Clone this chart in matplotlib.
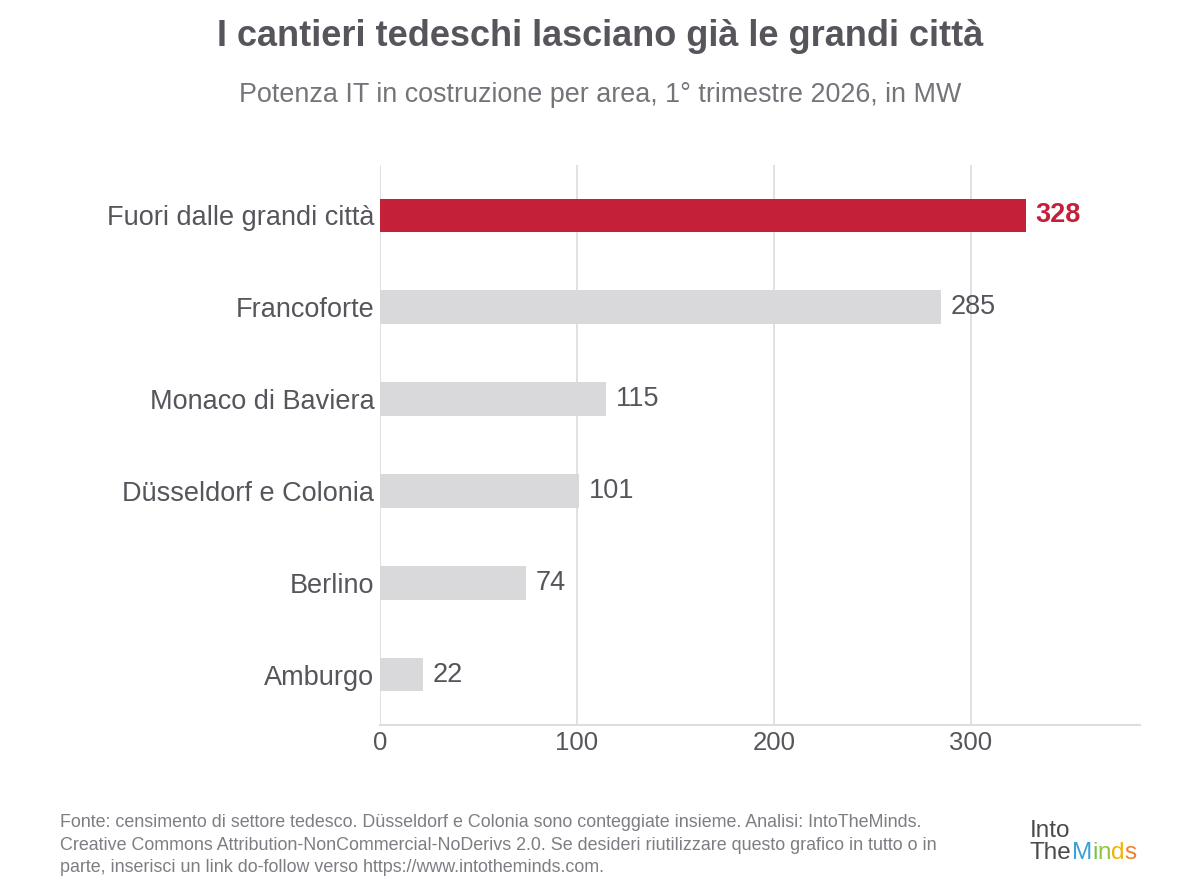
import matplotlib
matplotlib.use("Agg")
import matplotlib.pyplot as plt

categories = ["Fuori dalle grandi città", "Francoforte", "Monaco di Baviera",
              "Düsseldorf e Colonia", "Berlino", "Amburgo"]
values = [328, 285, 115, 101, 74, 22]
highlight = [True, False, False, False, False, False]
xticks = [0, 100, 200, 300]

title = "I cantieri tedeschi lasciano già le grandi città"
subtitle = "Potenza IT in costruzione per area, 1° trimestre 2026, in MW"
footer = ("Fonte: censimento di settore tedesco. Düsseldorf e Colonia sono conteggiate insieme. Analisi: IntoTheMinds.\n"
          "Creative Commons Attribution-NonCommercial-NoDerivs 2.0. Se desideri riutilizzare questo grafico in tutto o in\n"
          "parte, inserisci un link do-follow verso https://www.intotheminds.com.")

plt.rcParams['font.family'] = ['Liberation Sans', 'DejaVu Sans']
TXT = "#58545c"
RED = "#c5203a"
GREY = "#d9d8db"
GRID = "#dedde0"

W, H = 1200, 896
fig = plt.figure(figsize=(W/100, H/100), dpi=100)
fig.patch.set_facecolor("white")
ax = fig.add_axes([380/W, 1-725/H, (1140-380)/W, (725-165)/H])

ypos = list(range(len(categories)))
colors = [RED if h else GREY for h in highlight]
ax.barh(ypos, values, height=0.37, color=colors, zorder=3)
ax.set_ylim(len(categories)-1+0.55, -0.55)
ax.set_xlim(0, 386)
ax.set_yticks(ypos)
ax.set_yticklabels(categories, fontsize=19.5, color=TXT)
ax.set_xticks(xticks)
ax.set_xticklabels([str(t) for t in xticks], fontsize=18.5, color=TXT)
ax.tick_params(axis='both', length=0)
ax.tick_params(axis='y', pad=4)
ax.tick_params(axis='x', pad=4)
ax.grid(axis='x', color=GRID, linewidth=1.3, zorder=0)
for s in ['top', 'right', 'left']:
    ax.spines[s].set_visible(False)
ax.spines['bottom'].set_color(GRID)
ax.spines['bottom'].set_linewidth(1.5)

for y, v, h in zip(ypos, values, highlight):
    ax.annotate(str(v), (v, y), xytext=(7, 0), textcoords='offset points',
                va='center', ha='left', fontsize=19.5,
                color=RED if h else TXT, fontweight='bold' if h else 'normal')

fig.text(0.5, 1-37/H, title, ha='center', va='center', fontsize=26,
         fontweight='bold', color=TXT)
fig.text(0.5, 1-95/H, subtitle, ha='center', va='center', fontsize=19.4,
         color="#77737a")
fig.text(60/W, 1-845/H, footer, ha='left', va='center', fontsize=12.9,
         color="#807c84", linespacing=1.42)

# logo as text
fig.text(1030/W, 1-831/H, "Into", ha='left', va='center', fontsize=17.5, color="#4a4a4a")
lx = 1030
logo_parts = [("The", "#4a4a4a"), ("M", "#3aa0d8"), ("i", "#7cc04a"),
              ("n", "#8cc63f"), ("d", "#f0b400"), ("s", "#f08030")]
r = fig.canvas.get_renderer()
for txt, c in logo_parts:
    t = fig.text(lx/W, 1-853/H, txt, ha='left', va='center', fontsize=17.5, color=c)
    bb = t.get_window_extent(renderer=r)
    lx += bb.width

fig.savefig("out.png", dpi=100)
